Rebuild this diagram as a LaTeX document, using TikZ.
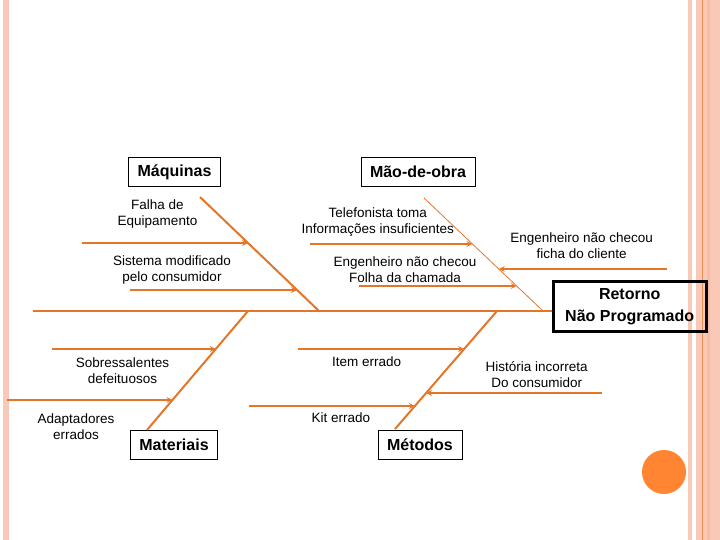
\documentclass[tikz,border=0pt]{standalone}
\usepackage{fontspec}
\setmainfont{Liberation Sans}
\usepackage{xcolor}
\usetikzlibrary{calc}

\definecolor{espinha}{RGB}{228,118,40}
\definecolor{faixa}{RGB}{250,200,182}
\definecolor{bola}{RGB}{255,133,51}

\begin{document}
\begin{tikzpicture}[x=1pt,y=-1pt,
		causa/.style={draw, thin, inner xsep=9pt, minimum height=29pt, font=\fontsize{16}{19}\selectfont\bfseries},
		efeito/.style={draw, line width=3pt, align=center, minimum width=153pt, minimum height=50pt, inner sep=0pt, font=\fontsize{16}{22}\selectfont\bfseries},
		rotulo/.style={align=center, inner sep=0pt, font=\fontsize{13.5}{16}\selectfont},
		osso/.style={espinha, line width=2pt},
		ossofino/.style={espinha, line width=0.8pt},
		ramo/.style={espinha, line width=1.6pt, -stealth}]
			\def\W{720};
			\def\H{540};

			\useasboundingbox (0,0) rectangle (\W,\H);

			\begin{scope}
				\fill[faixa] (3,0) rectangle (9,\H);
				\fill[faixa] (688,0) rectangle (692,\H);
				\fill[faixa] (696,0) rectangle (\W,\H);
				\fill[faixa!85!espinha] (707,0) rectangle (710,\H);
				\draw[espinha!80, thin] (702.5,0) -- (702.5,\H);
				\fill[bola] (664,472) circle (22pt);
			\end{scope}

			\node[causa] (maquinas) at (174.5,172) {Máquinas};
			\node[causa] (maoobra) at (418,171.5) {Mão-de-obra};
			\node[causa] (materiais) at (174,444.5) {Materiais};
			\node[causa] (metodos) at (420,444.5) {Métodos};
			\node[efeito] (retorno) at (629.7,306.7) {Retorno\\Não Programado};

			\coordinate (cauda) at (33,311);
			\draw[osso] (cauda) -- (cauda -| retorno.west);

			\begin{scope}
				\coordinate (mqA) at (200,197);
				\coordinate (mqB) at (319,311);
				\coordinate (moA) at (424,198);
				\coordinate (moB) at (543,311);
				\coordinate (mtA) at (248,311);
				\coordinate (mtB) at (147,430);
				\coordinate (meA) at (497,311);
				\coordinate (meB) at (395,429);

				\draw[osso] (mqA) -- (mqB) coordinate[pos=.4035] (mq1) coordinate[pos=.8158] (mq2);
				\draw[ossofino] (moA) -- (moB) coordinate[pos=.4071] (mo1) coordinate[pos=.7788] (mo2) coordinate[pos=.6283] (mo3);
				\draw[osso] (mtA) -- (mtB) coordinate[pos=.3193] (mt1) coordinate[pos=.7479] (mt2);
				\draw[osso] (meA) -- (meB) coordinate[pos=.322] (me1) coordinate[pos=.6949] (me2) coordinate[pos=.8051] (me3);
			\end{scope}

			\begin{scope}
				\draw[ramo] (mq1 -| 82,0) -- (mq1);
				\draw[ramo] (mq2 -| 130,0) -- (mq2);
				\draw[ramo] (mo1 -| 310,0) -- (mo1);
				\draw[ramo] (mo2 -| 359,0) -- (mo2);
				\draw[ramo] (mo3 -| 667,0) -- (mo3);
				\draw[ramo] (mt1 -| 52,0) -- (mt1);
				\draw[ramo] (mt2 -| 7,0) -- (mt2);
				\draw[ramo] (me1 -| 298,0) -- (me1);
				\draw[ramo] (me2 -| 602,0) -- (me2);
				\draw[ramo] (me3 -| 249,0) -- (me3);
			\end{scope}

			\begin{scope}
				\node[rotulo] (falha) at (157.5,214) {Falha de\\Equipamento};
				\node[rotulo] (sistema) at (172,270) {Sistema modificado\\pelo consumidor};
				\node[rotulo] (telefonista) at (377.7,222) {Telefonista toma\\Informações insuficientes};
				\node[rotulo] (folha) at (405,270) {Engenheiro não checou\\Folha da chamada};
				\node[rotulo] (ficha) at (581.7,246) {Engenheiro não checou\\ficha do cliente};
				\node[rotulo] (sobressalentes) at (122.5,370.5) {Sobressalentes\\defeituosos};
				\node[rotulo] (adaptadores) at (76,426.5) {Adaptadores\\errados};
				\node[rotulo] (item) at (366.7,362) {Item errado};
				\node[rotulo] (historia) at (536.7,374.5) {História incorreta\\Do consumidor};
				\node[rotulo] (kit) at (341,418) {Kit errado};
			\end{scope}
		\end{tikzpicture}
\end{document}
